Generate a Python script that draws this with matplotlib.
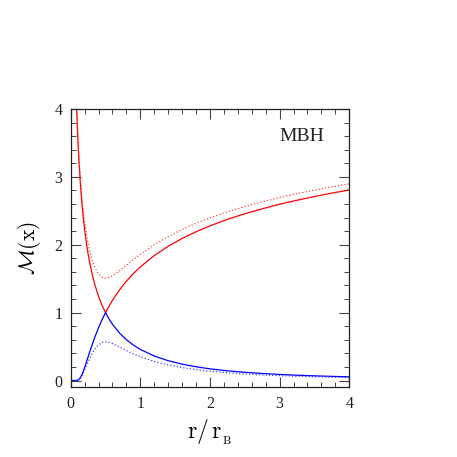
import numpy as np
import matplotlib
matplotlib.use("Agg")
import matplotlib.pyplot as plt

plt.rcParams['font.family'] = ['Liberation Serif', 'DejaVu Serif']
plt.rcParams['mathtext.fontset'] = 'cm'

# Mach number, r/r_B on the x axis
x_red = [0.08, 0.09, 0.10, 0.11, 0.12, 0.14, 0.16, 0.18, 0.20, 0.23, 0.26, 0.30,
         0.35, 0.40, 0.45, 0.50, 0.55, 0.60, 0.70, 0.80, 0.90, 1.0, 1.2, 1.4,
         1.6, 1.8, 2.0, 2.25, 2.5, 2.75, 3.0, 3.25, 3.5, 3.75, 4.0]
red_solid = [4.187, 3.883, 3.625, 3.402, 3.208, 2.883, 2.621, 2.404, 2.221, 1.992,
             1.805, 1.602, 1.400, 1.240, 1.109, 1.000, 1.095, 1.182, 1.334, 1.464,
             1.576, 1.674, 1.841, 1.978, 2.093, 2.192, 2.279, 2.374, 2.457, 2.530,
             2.597, 2.656, 2.711, 2.761, 2.808]
red_dot = [4.244, 3.944, 3.691, 3.474, 3.284, 2.970, 2.719, 2.513, 2.342, 2.134,
           1.970, 1.803, 1.658, 1.567, 1.520, 1.506, 1.517, 1.542, 1.617, 1.700,
           1.783, 1.861, 2.001, 2.121, 2.225, 2.316, 2.396, 2.485, 2.563, 2.633,
           2.696, 2.753, 2.805, 2.853, 2.897]

x_blue = [0.0, 0.05, 0.08, 0.09, 0.10, 0.11, 0.12, 0.14, 0.16, 0.18, 0.20, 0.23,
          0.26, 0.30, 0.35, 0.40, 0.45, 0.50, 0.55, 0.60, 0.70, 0.80, 0.90, 1.0,
          1.2, 1.4, 1.6, 1.8, 2.0, 2.25, 2.5, 2.75, 3.0, 3.25, 3.5, 3.75, 4.0]
blue_solid = [0.0, 0.0, 0.0007, 0.0021, 0.0051, 0.0104, 0.0187, 0.0452, 0.0848,
              0.1349, 0.1923, 0.2854, 0.381, 0.504, 0.648, 0.778, 0.895, 1.000,
              0.908, 0.8285, 0.700, 0.601, 0.522, 0.458, 0.361, 0.292, 0.241,
              0.2025, 0.172, 0.143, 0.121, 0.1036, 0.0896, 0.0782, 0.0689,
              0.0612, 0.0546]
blue_dot = [0.0, 0.0, 0.0005, 0.0017, 0.0041, 0.0083, 0.0149, 0.0361, 0.0676,
            0.1074, 0.1525, 0.2244, 0.2954, 0.3815, 0.468, 0.528, 0.560, 0.570,
            0.5625, 0.5446, 0.4946, 0.4417, 0.393, 0.350, 0.281, 0.2295, 0.1906,
            0.1605, 0.137, 0.1141, 0.0964, 0.0826, 0.0714, 0.0624, 0.0550,
            0.0488, 0.0436]

fig = plt.figure(figsize=(4.57, 4.57), dpi=100)
ax = fig.add_axes([0.1547, 0.1525, 0.6096, 0.609])

dots = (0, (1, 1.8))
ax.plot(x_red, red_solid, color='#ff0000', lw=0.9)
ax.plot(x_red, red_dot, color='#ff3030', lw=0.85, ls=dots)
ax.plot(x_blue, blue_solid, color='#0000ff', lw=0.9)
ax.plot(x_blue, blue_dot, color='#3030ff', lw=0.85, ls=dots)

ax.set_xlim(0, 4)
ax.set_ylim(-0.1, 4)
ax.set_xticks([0, 1, 2, 3, 4])
ax.set_yticks([0, 1, 2, 3, 4])
ax.set_xticks(np.arange(0, 4.01, 0.2), minor=True)
ax.set_yticks(np.arange(0, 4.01, 0.2), minor=True)
ax.tick_params(which='both', direction='in', top=True, right=True,
               color='#444444', labelsize=11.5, labelcolor='#222222')
ax.tick_params(which='major', length=7, width=0.8, pad=6)
ax.tick_params(which='minor', length=3.8, width=0.7)
for s in ax.spines.values():
    s.set_linewidth(0.9)
    s.set_color('#222222')

ax.set_xlabel(r'$\mathrm{r/\,r_{_B}}$', fontsize=17, labelpad=4)
ax.set_ylabel(r'$\mathcal{M}(\mathrm{x})$', fontsize=15.5, labelpad=8)
ax.text(3.0, 3.59, 'MBH', fontsize=14, va='center', ha='left', color='#222222')

fig.savefig('out.png', dpi=100)
